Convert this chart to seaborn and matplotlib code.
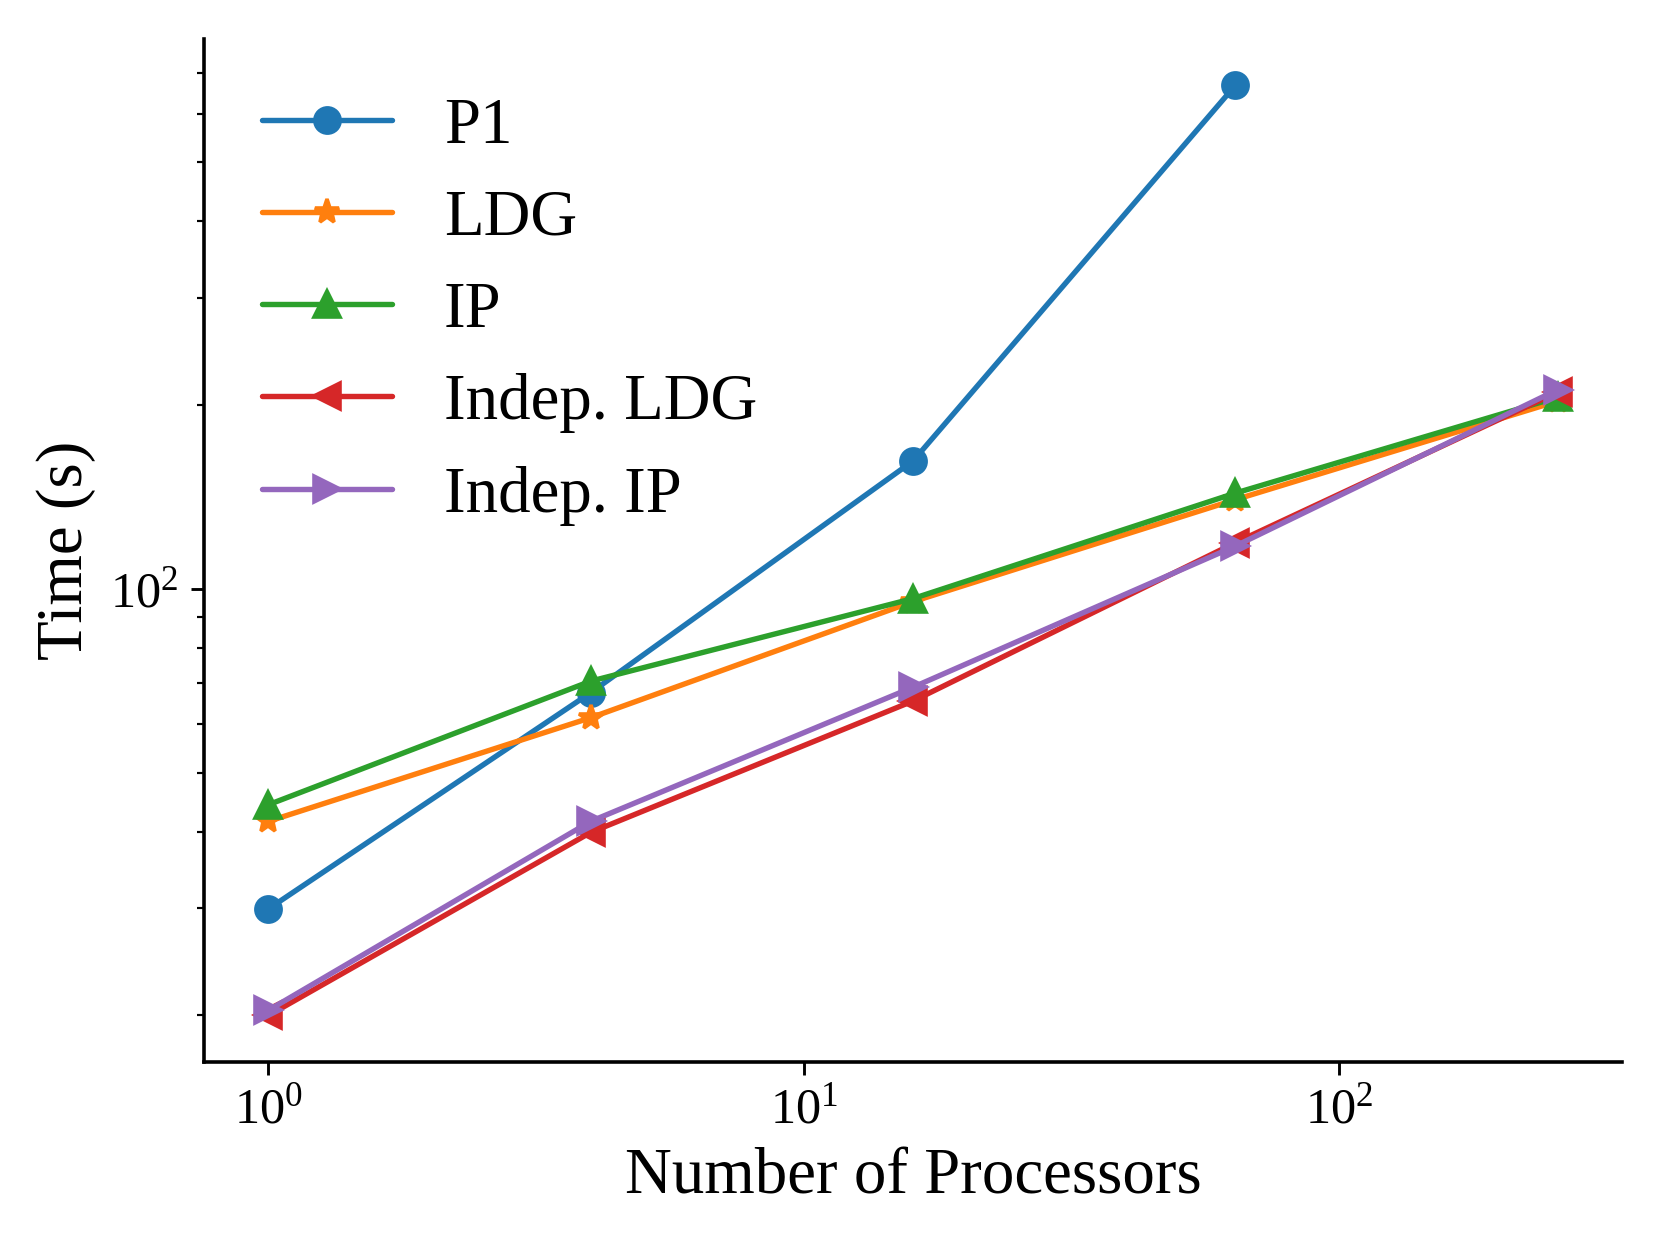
import matplotlib
matplotlib.use('Agg')
import matplotlib.pyplot as plt
import matplotlib.ticker as mticker
import numpy as np
import pandas as pd
import seaborn as sns

# processors
procs = [1, 4, 16, 64, 256]

# timings (s)
p1 = [29.9, 67.6, 162.0, 668.0]
ldg = [41.6, 61.5, 95.3, 140.0, 203.0]
ip = [44.3, 70.6, 96.4, 143.5, 206.0]
indep_ldg = [20.0, 39.9, 65.5, 119.0, 210.0]
indep_ip = [20.4, 41.6, 69.0, 117.5, 212.0]

series = [
    ('P1', p1, 'o'),
    ('LDG', ldg, '*'),
    ('IP', ip, '^'),
    ('Indep. LDG', indep_ldg, '<'),
    ('Indep. IP', indep_ip, '>'),
]

sns.set_style('ticks')
plt.rcParams['font.family'] = ['Liberation Serif', 'DejaVu Serif']
plt.rcParams['mathtext.fontset'] = 'stix'
for key in ['text.color', 'axes.labelcolor', 'xtick.color', 'ytick.color',
            'axes.edgecolor']:
    plt.rcParams[key] = 'black'

fig = plt.figure(figsize=(6.4, 4.8), dpi=259.375)
ax = fig.add_axes([0.1229, 0.147, 0.8542, 0.8217])

colors = sns.color_palette('tab10')
for i, (name, vals, mk) in enumerate(series):
    df = pd.DataFrame({'procs': procs[:len(vals)], 'time': vals})
    sns.lineplot(data=df, x='procs', y='time', ax=ax, color=colors[i],
                 marker=mk, markersize=7, markeredgecolor=colors[i],
                 markeredgewidth=1, linewidth=1.5, label=name)

ax.set_xscale('log')
ax.set_yscale('log')
ax.xaxis.set_minor_locator(mticker.NullLocator())
ax.tick_params(labelsize=14)
for s in ['left', 'bottom']:
    ax.spines[s].set_linewidth(1.0)
sns.despine(ax=ax)

ax.set_xlabel('Number of Processors', fontsize=18)
ax.set_ylabel('Time (s)', fontsize=18)
ax.legend(frameon=False, fontsize=18, loc='upper left')

fig.savefig('out.png', dpi=259.375)
